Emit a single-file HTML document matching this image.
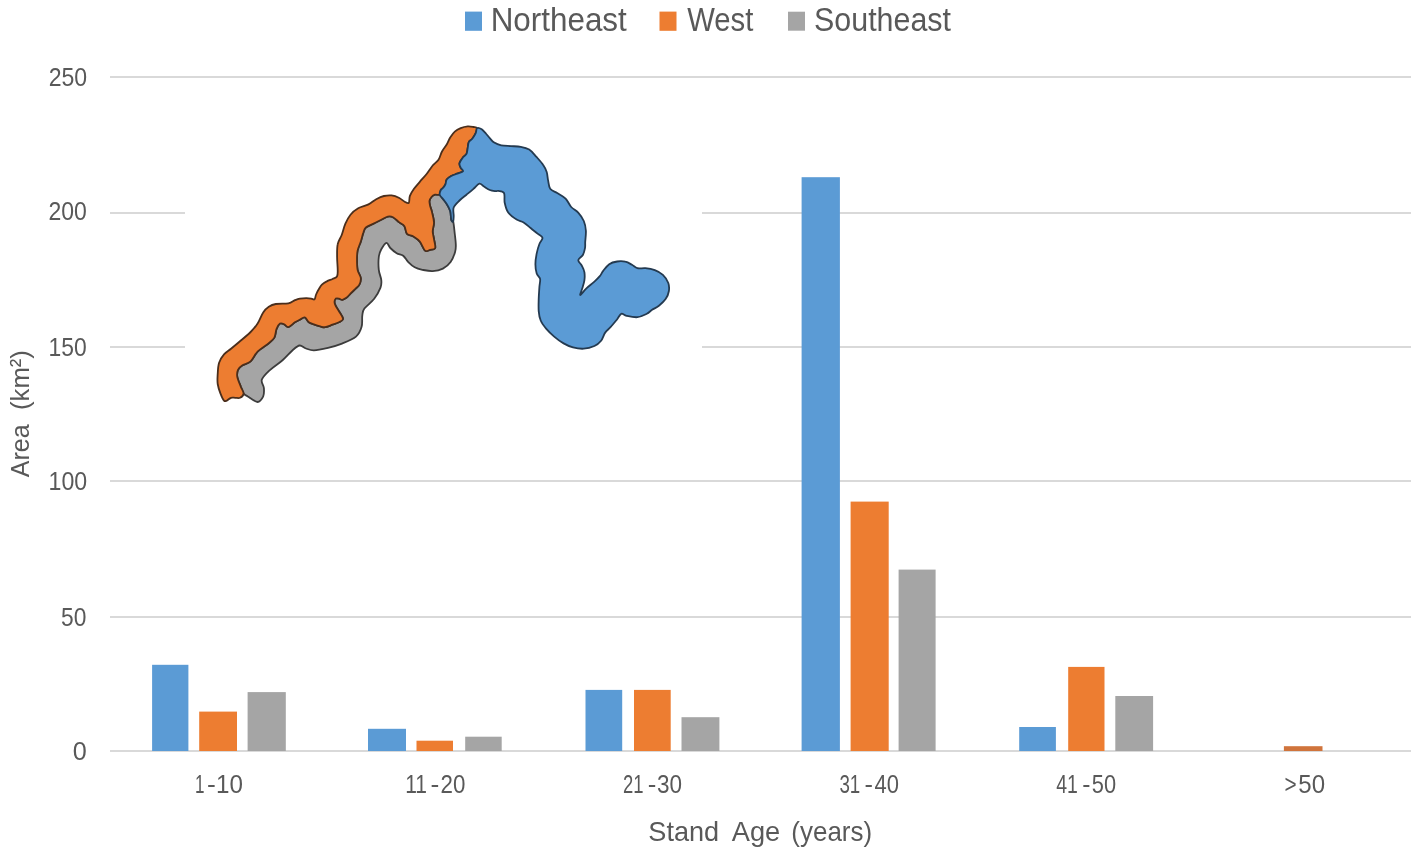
<!DOCTYPE html>
<html><head><meta charset="utf-8">
<style>
html,body{margin:0;padding:0;background:#fff;width:1418px;height:857px;overflow:hidden}
svg{display:block}
text{font-family:"Liberation Sans",sans-serif;fill:#595959}
.aa{will-change:transform}
</style></head>
<body>
<svg class="aa" width="1418" height="857" viewBox="0 0 1418 857">
<rect width="1418" height="857" fill="#fff"/>
<!-- gridlines -->
<g fill="#d9d9d9">
<rect x="110" y="76" width="1301" height="2"/>
<rect x="110" y="212" width="1301" height="2"/>
<rect x="110" y="346" width="1301" height="2"/>
<rect x="110" y="480" width="1301" height="2"/>
<rect x="110" y="616" width="1301" height="2"/>
<rect x="110" y="750" width="1301" height="2"/>
</g>
<!-- y labels -->
<g font-size="25">
<text x="48.68" y="85.7" textLength="38.49" lengthAdjust="spacingAndGlyphs">250</text>
<text x="48.38" y="219.8" textLength="38.38" lengthAdjust="spacingAndGlyphs">200</text>
<text x="48.57" y="355.6" textLength="38.19" lengthAdjust="spacingAndGlyphs">150</text>
<text x="48.55" y="489.8" textLength="38.62" lengthAdjust="spacingAndGlyphs">100</text>
<text x="61.09" y="625.8" textLength="25.35" lengthAdjust="spacingAndGlyphs">50</text>
<text x="72.89" y="759.8" textLength="14.02" lengthAdjust="spacingAndGlyphs">0</text>
</g>
<!-- bars -->
<g fill="#5b9bd5">
<rect x="152.1" y="664.8" width="36.3" height="86.2"/>
<rect x="368.0" y="728.8" width="38.0" height="22.2"/>
<rect x="585.5" y="689.9" width="36.7" height="61.1"/>
<rect x="801.6" y="177.2" width="38.3" height="573.8"/>
<rect x="1019.2" y="727.0" width="36.7" height="24.0"/>
</g>
<g fill="#ed7d31">
<rect x="199.2" y="711.6" width="37.8" height="39.4"/>
<rect x="416.5" y="740.7" width="36.5" height="10.3"/>
<rect x="634.0" y="689.9" width="36.7" height="61.1"/>
<rect x="850.6" y="501.6" width="38.1" height="249.4"/>
<rect x="1068.2" y="666.9" width="36.3" height="84.1"/>
<rect x="1283.9" y="746.2" width="38.6" height="4.8" fill="#d0743c"/>
</g>
<g fill="#a5a5a5">
<rect x="247.6" y="692.1" width="38.2" height="58.9"/>
<rect x="465.2" y="736.7" width="36.5" height="14.3"/>
<rect x="681.5" y="717.2" width="37.9" height="33.8"/>
<rect x="898.6" y="569.6" width="37.0" height="181.4"/>
<rect x="1115.3" y="696.0" width="37.8" height="55.0"/>
</g>
<!-- x labels -->
<g font-size="25">
<text x="194.94" y="793" textLength="9.48" lengthAdjust="spacingAndGlyphs">1</text>
<text x="206.94" y="793" textLength="8.80" lengthAdjust="spacingAndGlyphs">-</text>
<text x="215.96" y="793" textLength="26.92" lengthAdjust="spacingAndGlyphs">10</text>
<text x="405.22" y="793" textLength="21.78" lengthAdjust="spacingAndGlyphs">11</text>
<text x="430.54" y="793" textLength="8.80" lengthAdjust="spacingAndGlyphs">-</text>
<text x="440.61" y="793" textLength="24.82" lengthAdjust="spacingAndGlyphs">20</text>
<text x="622.96" y="793" textLength="20.54" lengthAdjust="spacingAndGlyphs">21</text>
<text x="647.77" y="793" textLength="8.57" lengthAdjust="spacingAndGlyphs">-</text>
<text x="657.10" y="793" textLength="25.03" lengthAdjust="spacingAndGlyphs">30</text>
<text x="839.45" y="793" textLength="20.86" lengthAdjust="spacingAndGlyphs">31</text>
<text x="864.59" y="793" textLength="8.45" lengthAdjust="spacingAndGlyphs">-</text>
<text x="874.50" y="793" textLength="24.41" lengthAdjust="spacingAndGlyphs">40</text>
<text x="1056.20" y="793" textLength="21.63" lengthAdjust="spacingAndGlyphs">41</text>
<text x="1082.31" y="793" textLength="8.21" lengthAdjust="spacingAndGlyphs">-</text>
<text x="1091.83" y="793" textLength="24.28" lengthAdjust="spacingAndGlyphs">50</text>
<text x="1284.57" y="793" textLength="12.14" lengthAdjust="spacingAndGlyphs">&gt;</text>
<text x="1298.34" y="793" textLength="26.74" lengthAdjust="spacingAndGlyphs">50</text>
</g>
<!-- axis titles -->
<g font-size="28">
<text x="648.33" y="840.8" textLength="70.80" lengthAdjust="spacingAndGlyphs">Stand</text>
<text x="731.80" y="840.8" textLength="48.40" lengthAdjust="spacingAndGlyphs">Age</text>
<text x="791.37" y="840.8" textLength="80.77" lengthAdjust="spacingAndGlyphs">(years)</text>
</g>
<g font-size="26.7">
<text transform="translate(28.8,477.2) rotate(-90)" textLength="52.72" lengthAdjust="spacingAndGlyphs">Area</text>
<text transform="translate(28.8,409.96) rotate(-90)" textLength="59.76" lengthAdjust="spacingAndGlyphs">(km²)</text>
</g>
<!-- legend -->
<rect x="465" y="11.6" width="17" height="19.2" fill="#5b9bd5"/>
<rect x="659.5" y="11.6" width="17" height="19.2" fill="#ed7d31"/>
<rect x="788" y="11.7" width="17" height="19" fill="#a5a5a5"/>
<g font-size="32.5">
<text x="490.67" y="30.9" textLength="136.14" lengthAdjust="spacingAndGlyphs">Northeast</text>
<text x="687.20" y="30.9" textLength="66.11" lengthAdjust="spacingAndGlyphs">West</text>
<text x="814.06" y="30.9" textLength="136.89" lengthAdjust="spacingAndGlyphs">Southeast</text>
</g>
<!-- MAP -->
<rect x="185" y="100" width="517" height="320" fill="#fff"/>
<g stroke-width="1.8" stroke-linejoin="round">
<path fill="#a5a5a5" stroke="#3c3c3c" d="M243.6,393.6 C242.4,392.0 241.9,389.4 240.8,386.6 C239.8,383.8 237.8,379.6 237.3,376.8 C236.8,374.0 237.2,371.7 238.0,369.8 C238.8,367.9 240.1,367.0 242.2,365.6 C244.3,364.2 248.0,363.7 250.6,361.4 C253.2,359.1 254.6,354.6 257.6,351.6 C260.6,348.6 266.0,345.5 268.8,343.2 C271.6,340.9 273.1,339.9 274.4,337.6 C275.7,335.3 275.6,331.5 276.5,329.2 C277.4,326.9 278.7,324.4 280.0,323.6 C281.3,322.8 282.8,323.7 284.2,324.3 C285.6,324.9 286.6,327.4 288.4,327.1 C290.2,326.8 293.0,323.5 294.9,322.3 C296.8,321.1 298.2,320.6 299.8,319.8 C301.4,319.0 303.2,317.0 304.7,317.4 C306.2,317.8 307.2,321.1 308.8,322.3 C310.4,323.5 312.6,324.0 314.5,324.7 C316.4,325.4 318.4,326.0 320.2,326.4 C322.0,326.8 323.1,327.5 325.1,327.2 C327.2,326.9 330.2,325.5 332.5,324.7 C334.8,323.9 337.2,323.2 339.0,322.3 C340.8,321.4 343.0,320.6 343.1,319.0 C343.2,317.4 341.0,314.7 339.8,312.5 C338.6,310.3 336.7,307.8 335.8,306.0 C334.9,304.2 334.5,303.1 334.5,301.9 C334.5,300.7 335.1,299.2 335.8,298.6 C336.6,298.1 337.9,298.4 339.0,298.6 C340.1,298.8 341.1,299.9 342.3,299.8 C343.5,299.7 345.0,298.8 346.4,297.8 C347.8,296.8 349.0,295.2 350.5,293.7 C352.0,292.2 353.9,290.3 355.4,288.8 C356.9,287.3 358.5,286.5 359.4,284.7 C360.3,282.9 361.1,280.5 360.8,278.0 C360.5,275.5 358.2,272.9 357.6,269.8 C357.0,266.7 357.0,262.8 357.0,259.6 C357.0,256.4 357.0,253.6 357.6,250.6 C358.2,247.6 359.8,244.6 360.8,241.6 C361.8,238.6 362.5,234.9 363.4,232.6 C364.2,230.2 364.2,229.0 365.9,227.5 C367.6,226.0 371.0,224.9 373.6,223.6 C376.2,222.3 378.9,221.0 381.3,219.8 C383.7,218.6 385.9,217.0 387.8,216.6 C389.7,216.2 391.0,216.2 392.9,217.2 C394.8,218.2 397.4,220.9 399.3,222.4 C401.2,223.9 403.1,224.3 404.4,226.2 C405.7,228.1 405.5,232.2 407.0,233.9 C408.5,235.6 411.3,235.2 413.4,236.5 C415.5,237.8 417.9,239.2 419.8,241.6 C421.7,243.9 423.3,249.2 425.0,250.6 C426.7,252.0 428.4,250.3 430.1,249.9 C431.8,249.5 434.6,249.8 435.2,248.0 C435.8,246.2 434.4,241.8 434.0,239.0 C433.6,236.2 432.7,234.1 432.7,231.3 C432.7,228.5 434.1,225.6 434.0,222.4 C433.9,219.2 432.6,214.9 432.0,212.1 C431.4,209.3 430.5,207.5 430.1,205.7 C429.7,203.8 429.3,202.4 429.5,201.0 C429.7,199.6 430.6,198.1 431.5,197.0 C432.4,195.9 433.6,195.1 435.0,194.7 C436.4,194.3 438.3,193.9 439.7,194.7 C441.1,195.5 442.0,197.8 443.2,199.3 C444.4,200.9 445.5,202.1 446.7,204.0 C447.9,205.9 449.4,208.3 450.2,211.0 C451.0,213.7 450.8,218.2 451.3,220.0 C451.8,221.8 452.7,219.7 453.2,221.6 C453.7,223.5 454.1,227.5 454.5,231.3 C454.9,235.1 455.7,240.8 455.8,244.2 C455.9,247.6 456.0,248.9 455.1,251.9 C454.2,254.9 452.6,259.3 450.6,262.1 C448.6,264.9 445.9,267.1 442.9,268.6 C439.9,270.1 436.1,270.9 432.7,271.1 C429.3,271.3 425.4,270.4 422.4,269.8 C419.4,269.2 417.0,268.6 414.7,267.3 C412.4,266.0 410.2,264.0 408.3,262.1 C406.4,260.2 405.1,257.2 403.2,255.7 C401.3,254.2 398.8,254.5 396.7,253.2 C394.6,251.9 392.0,249.7 390.3,248.0 C388.6,246.3 388.0,242.7 386.5,242.9 C385.0,243.1 382.6,247.0 381.3,249.3 C380.0,251.7 379.2,253.6 378.8,257.0 C378.4,260.4 378.4,265.9 378.8,269.8 C379.2,273.7 381.0,277.1 381.3,280.1 C381.6,283.1 381.7,284.5 380.5,287.6 C379.3,290.7 376.9,295.3 374.2,298.8 C371.5,302.3 366.4,305.8 364.4,308.6 C362.4,311.4 362.8,312.6 362.3,315.6 C361.8,318.6 362.7,323.3 361.6,326.8 C360.6,330.3 359.3,333.8 356.0,336.6 C352.7,339.4 346.7,341.7 342.0,343.6 C337.3,345.5 332.7,346.7 328.0,347.8 C323.3,348.9 317.7,350.2 314.0,350.3 C310.3,350.4 308.4,349.3 306.0,348.5 C303.6,347.7 301.8,345.2 299.6,345.5 C297.4,345.8 295.4,347.8 292.6,350.2 C289.8,352.6 286.5,356.7 282.8,360.0 C279.1,363.3 273.7,366.5 270.2,369.8 C266.7,373.1 262.9,376.6 261.8,379.6 C260.8,382.6 263.7,385.2 263.9,388.0 C264.1,390.8 264.2,394.1 263.2,396.4 C262.1,398.7 260.2,402.0 257.6,402.0 C255.0,402.0 250.1,397.8 247.8,396.4 C245.5,395.0 244.8,395.2 243.6,393.6 Z"/>
<path fill="#ed7d31" stroke="#4a2e1c" d="M243.6,393.6 C243.5,395.5 241.5,397.1 240.1,397.8 C238.7,398.5 236.7,397.8 235.2,397.8 C233.7,397.8 232.4,397.3 231.0,397.8 C229.6,398.3 228.0,400.1 226.8,400.6 C225.6,401.1 225.1,401.8 224.0,400.6 C222.9,399.4 221.6,396.4 220.5,393.6 C219.4,390.8 218.2,387.3 217.7,384.0 C217.2,380.7 217.5,377.5 217.7,374.0 C217.9,370.5 218.0,366.1 219.1,362.8 C220.2,359.5 222.0,356.7 224.0,354.4 C226.0,352.1 228.4,350.9 231.0,348.8 C233.6,346.7 236.1,344.6 239.4,341.8 C242.7,339.0 247.6,335.0 250.6,332.0 C253.6,329.0 255.5,326.9 257.6,323.6 C259.7,320.3 261.3,315.2 263.2,312.4 C265.1,309.6 266.7,308.2 268.8,306.8 C270.9,305.4 272.5,304.6 275.8,304.0 C279.1,303.4 285.2,303.9 288.4,303.3 C291.6,302.7 293.0,301.0 294.9,300.2 C296.8,299.4 297.9,298.9 299.8,298.6 C301.7,298.3 304.4,298.2 306.3,298.2 C308.2,298.2 309.8,298.4 311.2,298.6 C312.6,298.8 313.7,300.1 314.5,299.4 C315.3,298.7 315.4,296.1 316.1,294.5 C316.8,292.9 317.6,291.2 318.6,289.6 C319.6,288.0 320.5,286.1 321.9,284.7 C323.3,283.3 325.0,282.3 326.8,281.4 C328.6,280.4 330.8,279.8 332.5,279.0 C334.2,278.2 336.1,278.0 337.0,276.5 C337.9,275.0 337.7,273.1 337.7,269.8 C337.7,266.6 337.1,261.3 337.1,257.0 C337.1,252.7 336.9,247.8 337.7,244.2 C338.4,240.6 340.3,238.6 341.6,235.2 C342.9,231.8 343.9,227.0 345.4,223.6 C346.9,220.2 348.4,217.3 350.5,214.7 C352.6,212.1 355.2,209.9 358.2,208.2 C361.2,206.5 365.5,205.9 368.5,204.4 C371.5,202.9 373.6,200.6 376.2,199.2 C378.8,197.8 381.3,196.6 383.9,196.0 C386.5,195.4 389.0,195.1 391.6,195.4 C394.2,195.7 397.1,196.9 399.3,198.0 C401.5,199.1 403.1,200.9 404.7,201.7 C406.3,202.5 407.9,203.8 408.8,202.8 C409.7,201.8 409.0,198.1 409.9,195.8 C410.8,193.5 412.4,191.1 414.0,188.8 C415.6,186.5 417.7,184.3 419.8,181.8 C421.9,179.3 424.7,176.4 426.8,173.7 C428.9,171.0 430.8,167.8 432.7,165.5 C434.6,163.2 436.9,162.0 438.5,159.7 C440.1,157.4 440.6,154.0 442.0,151.5 C443.4,149.0 445.3,146.8 446.7,144.5 C448.1,142.2 448.8,139.6 450.2,137.5 C451.6,135.4 453.1,133.2 454.8,131.7 C456.6,130.1 458.6,129.1 460.7,128.2 C462.8,127.3 465.6,126.6 467.7,126.4 C469.8,126.2 471.9,126.7 473.5,127.0 C475.1,127.3 476.6,127.2 477.0,128.2 C477.4,129.2 476.6,131.1 475.8,132.8 C475.0,134.6 473.5,137.1 472.3,138.7 C471.1,140.3 469.6,140.6 468.8,142.2 C468.0,143.8 468.1,146.1 467.7,148.0 C467.3,149.9 467.3,152.2 466.5,153.8 C465.7,155.4 464.2,155.7 463.0,157.3 C461.8,158.9 459.9,161.4 459.5,163.2 C459.1,164.9 460.1,166.5 460.7,167.8 C461.3,169.2 463.6,170.3 463.0,171.3 C462.4,172.3 459.1,172.9 457.2,173.7 C455.2,174.5 453.1,175.0 451.3,176.0 C449.6,177.0 447.7,178.1 446.7,179.5 C445.7,180.9 446.1,182.8 445.5,184.2 C444.9,185.6 444.0,186.7 443.2,187.7 C442.4,188.7 441.4,188.8 440.8,190.0 C440.2,191.2 440.7,193.9 439.7,194.7 C438.7,195.5 436.4,194.3 435.0,194.7 C433.6,195.1 432.4,195.9 431.5,197.0 C430.6,198.1 429.7,199.6 429.5,201.0 C429.3,202.4 429.7,203.8 430.1,205.7 C430.5,207.5 431.4,209.3 432.0,212.1 C432.6,214.9 433.9,219.2 434.0,222.4 C434.1,225.6 432.7,228.5 432.7,231.3 C432.7,234.1 433.6,236.2 434.0,239.0 C434.4,241.8 435.8,246.2 435.2,248.0 C434.6,249.8 431.8,249.5 430.1,249.9 C428.4,250.3 426.7,252.0 425.0,250.6 C423.3,249.2 421.7,243.9 419.8,241.6 C417.9,239.2 415.5,237.8 413.4,236.5 C411.3,235.2 408.5,235.6 407.0,233.9 C405.5,232.2 405.7,228.1 404.4,226.2 C403.1,224.3 401.2,223.9 399.3,222.4 C397.4,220.9 394.8,218.2 392.9,217.2 C391.0,216.2 389.7,216.2 387.8,216.6 C385.9,217.0 383.7,218.6 381.3,219.8 C378.9,221.0 376.2,222.3 373.6,223.6 C371.0,224.9 367.6,226.0 365.9,227.5 C364.2,229.0 364.2,230.2 363.4,232.6 C362.5,234.9 361.8,238.6 360.8,241.6 C359.8,244.6 358.2,247.6 357.6,250.6 C357.0,253.6 357.0,256.4 357.0,259.6 C357.0,262.8 357.0,266.7 357.6,269.8 C358.2,272.9 360.5,275.5 360.8,278.0 C361.1,280.5 360.3,282.9 359.4,284.7 C358.5,286.5 356.9,287.3 355.4,288.8 C353.9,290.3 352.0,292.2 350.5,293.7 C349.0,295.2 347.8,296.8 346.4,297.8 C345.0,298.8 343.5,299.7 342.3,299.8 C341.1,299.9 340.1,298.8 339.0,298.6 C337.9,298.4 336.6,298.1 335.8,298.6 C335.1,299.2 334.5,300.7 334.5,301.9 C334.5,303.1 334.9,304.2 335.8,306.0 C336.7,307.8 338.6,310.3 339.8,312.5 C341.0,314.7 343.2,317.4 343.1,319.0 C343.0,320.6 340.8,321.4 339.0,322.3 C337.2,323.2 334.8,323.9 332.5,324.7 C330.2,325.5 327.2,326.9 325.1,327.2 C323.1,327.5 322.0,326.8 320.2,326.4 C318.4,326.0 316.4,325.4 314.5,324.7 C312.6,324.0 310.4,323.5 308.8,322.3 C307.2,321.1 306.2,317.8 304.7,317.4 C303.2,317.0 301.4,319.0 299.8,319.8 C298.2,320.6 296.8,321.1 294.9,322.3 C293.0,323.5 290.2,326.8 288.4,327.1 C286.6,327.4 285.6,324.9 284.2,324.3 C282.8,323.7 281.3,322.8 280.0,323.6 C278.7,324.4 277.4,326.9 276.5,329.2 C275.6,331.5 275.7,335.3 274.4,337.6 C273.1,339.9 271.6,340.9 268.8,343.2 C266.0,345.5 260.6,348.6 257.6,351.6 C254.6,354.6 253.2,359.1 250.6,361.4 C248.0,363.7 244.3,364.2 242.2,365.6 C240.1,367.0 238.8,367.9 238.0,369.8 C237.2,371.7 236.8,374.0 237.3,376.8 C237.8,379.6 239.8,383.8 240.8,386.6 C241.9,389.4 243.7,391.7 243.6,393.6 Z"/>
<path fill="#5b9bd5" stroke="#243a50" d="M477.0,128.2 C478.0,127.6 480.1,128.3 481.7,129.3 C483.2,130.3 484.9,132.5 486.3,134.0 C487.7,135.5 488.7,137.0 490.0,138.4 C491.3,139.8 492.3,141.4 494.2,142.6 C496.1,143.8 498.4,144.8 501.2,145.4 C504.0,146.0 507.7,145.9 511.0,146.1 C514.3,146.3 517.8,146.2 520.8,146.8 C523.8,147.4 526.6,148.0 529.2,149.6 C531.8,151.2 533.9,154.0 536.2,156.6 C538.5,159.2 541.5,162.4 543.2,165.0 C545.0,167.6 545.9,169.4 546.7,172.0 C547.5,174.6 547.5,177.6 548.1,180.4 C548.7,183.2 548.7,186.7 550.2,188.8 C551.7,190.9 554.6,191.4 557.2,193.0 C559.8,194.6 563.3,196.3 565.6,198.6 C567.9,200.9 569.1,204.7 571.2,207.0 C573.3,209.3 576.1,210.3 578.2,212.6 C580.3,214.9 582.5,218.0 583.8,221.0 C585.1,224.0 585.7,227.3 585.9,230.8 C586.1,234.3 585.4,239.1 585.2,242.0 C585.1,244.9 585.4,246.0 585.0,248.1 C584.6,250.2 584.1,252.8 583.0,254.8 C581.9,256.8 578.5,258.3 578.3,260.1 C578.1,261.9 580.7,263.5 581.7,265.5 C582.7,267.5 584.0,269.7 584.4,272.2 C584.8,274.7 584.8,277.6 584.4,280.3 C584.0,283.0 583.0,285.9 582.3,288.3 C581.6,290.8 579.6,295.0 580.3,295.0 C581.0,295.0 584.0,290.5 586.4,288.3 C588.8,286.1 592.2,283.6 594.4,281.6 C596.6,279.6 598.3,278.0 599.8,276.2 C601.3,274.4 601.6,272.9 603.2,270.9 C604.8,268.9 606.9,265.8 609.2,264.2 C611.5,262.6 614.5,261.9 617.2,261.5 C619.9,261.1 622.8,261.1 625.3,261.7 C627.8,262.2 630.0,263.7 632.0,264.8 C634.0,265.9 635.2,267.6 637.4,268.2 C639.6,268.8 642.5,267.9 645.4,268.2 C648.3,268.5 651.9,269.1 654.8,270.2 C657.7,271.3 660.6,272.8 662.9,274.9 C665.1,277.0 667.3,280.3 668.3,283.0 C669.3,285.7 669.3,288.3 668.9,291.0 C668.5,293.7 667.3,296.6 665.6,299.1 C663.9,301.6 661.1,304.0 658.9,305.8 C656.6,307.6 654.1,308.5 652.1,309.8 C650.1,311.1 649.2,312.6 646.8,313.8 C644.3,315.0 640.8,316.9 637.4,317.2 C634.0,317.5 629.3,316.4 626.6,315.8 C623.9,315.2 622.9,313.2 621.3,313.8 C619.7,314.4 619.0,317.0 617.2,319.2 C615.4,321.4 612.5,325.0 610.5,327.2 C608.5,329.4 606.8,330.4 605.2,332.6 C603.6,334.9 602.9,338.5 601.1,340.7 C599.3,342.9 597.3,344.7 594.4,346.0 C591.5,347.3 587.3,348.5 583.7,348.7 C580.1,348.9 576.4,348.3 573.0,347.4 C569.6,346.5 566.7,345.2 563.6,343.4 C560.5,341.6 557.1,339.1 554.2,336.6 C551.3,334.1 548.4,331.3 546.1,328.6 C543.9,325.9 541.9,323.4 540.7,320.5 C539.5,317.6 539.0,314.7 538.7,311.1 C538.4,307.5 538.6,303.1 538.7,299.1 C538.8,295.1 539.2,290.4 539.4,287.0 C539.6,283.6 540.5,281.1 540.1,278.9 C539.7,276.7 537.5,276.1 536.7,273.6 C535.9,271.2 535.4,267.6 535.4,264.2 C535.4,260.8 536.0,256.8 536.7,253.4 C537.4,250.0 538.4,246.6 539.4,244.0 C540.4,241.4 542.8,239.5 542.5,237.8 C542.2,236.1 539.6,235.2 537.6,233.6 C535.6,232.0 532.9,229.9 530.6,228.0 C528.3,226.1 525.9,223.8 523.6,222.4 C521.3,221.0 519.2,221.2 516.6,219.6 C514.0,218.0 510.2,215.4 508.2,212.6 C506.2,209.8 505.4,206.1 504.7,202.8 C504.0,199.5 505.1,195.0 504.0,193.0 C502.9,191.0 499.8,191.2 498.4,190.9 C497.0,190.6 497.1,191.3 495.7,191.2 C494.3,191.0 491.8,190.8 489.8,190.0 C487.9,189.2 485.8,187.6 484.0,186.5 C482.2,185.4 481.1,183.2 479.3,183.6 C477.6,184.0 475.6,187.0 473.5,188.8 C471.4,190.7 468.8,192.8 466.5,194.7 C464.2,196.6 461.6,198.4 459.5,200.5 C457.4,202.6 454.7,204.9 453.7,207.5 C452.7,210.1 453.8,213.7 453.7,216.0 C453.6,218.3 453.6,220.9 453.2,221.6 C452.8,222.3 451.8,221.8 451.3,220.0 C450.8,218.2 451.0,213.7 450.2,211.0 C449.4,208.3 447.9,205.9 446.7,204.0 C445.5,202.1 444.4,200.9 443.2,199.3 C442.0,197.8 440.1,196.2 439.7,194.7 C439.3,193.1 440.2,191.2 440.8,190.0 C441.4,188.8 442.4,188.7 443.2,187.7 C444.0,186.7 444.9,185.6 445.5,184.2 C446.1,182.8 445.7,180.9 446.7,179.5 C447.7,178.1 449.6,177.0 451.3,176.0 C453.1,175.0 455.2,174.5 457.2,173.7 C459.1,172.9 462.4,172.3 463.0,171.3 C463.6,170.3 461.3,169.2 460.7,167.8 C460.1,166.5 459.1,164.9 459.5,163.2 C459.9,161.4 461.8,158.9 463.0,157.3 C464.2,155.7 465.7,155.4 466.5,153.8 C467.3,152.2 467.3,149.9 467.7,148.0 C468.1,146.1 468.0,143.8 468.8,142.2 C469.6,140.6 471.1,140.3 472.3,138.7 C473.5,137.1 475.0,134.6 475.8,132.8 C476.6,131.1 476.0,128.8 477.0,128.2 Z"/>
</g>
<!-- /MAP -->
</svg>
</body></html>
